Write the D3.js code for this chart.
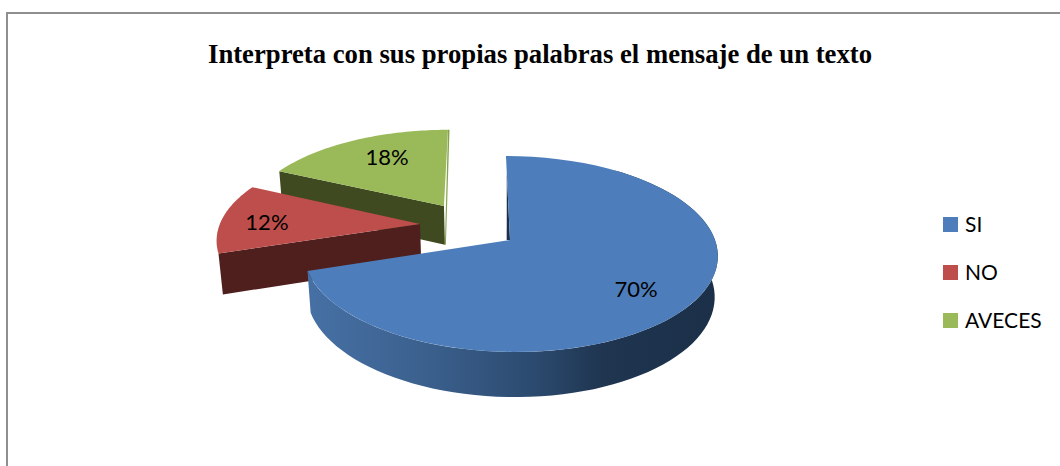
<!DOCTYPE html>
<html>
<head>
<meta charset="utf-8">
<script src="https://cdn.jsdelivr.net/npm/d3@7"></script>
<style>
html, body { margin: 0; padding: 0; background: white; }
</style>
</head>
<body>
<div id="chart"></div>
<script>
const title = "Interpreta con sus propias palabras el mensaje de un texto";
const categories = ["SI", "NO", "AVECES"];
const values = [70, 12, 18];
const colors = ["#4d7ebb", "#bd4e4b", "#9aba59"];
const wallColors = ["#1c3049", "#4f1f1e", "#3f4a20"];

const width = 1060;
const height = 466;

const svg = d3.select("#chart")
    .append("svg")
    .attr("width", width)
    .attr("height", height)
    .style("display", "block");

// frame is cut off on the right and at the bottom in the original
svg.append("path")
    .attr("d", `M7,${height}V13H${width}`)
    .attr("fill", "none")
    .attr("stroke", "#8f8f8f")
    .attr("stroke-width", 2);

svg.append("text")
    .attr("x", 540)
    .attr("y", 63)
    .attr("text-anchor", "middle")
    .style("font-family", "'Liberation Serif', serif")
    .style("font-weight", "bold")
    .style("font-size", "26.7px")
    .attr("fill", "black")
    .text(title);

// Perspective of the tilted disk. u goes right, v goes to the viewer, z goes down.
const project = function(u, v, z) {
    const w = 1 - v / 7 + 0.015 * z;
    return [
        510 + (205 * u + 4.6 * v) / w,
        240 + (96 * v + 41 * z) / w
    ];
};

const pie = d3.pie().sort(null).value(d => d);
const arcs = pie(values);

// how far each slice is pulled out, in disk units
const explode = [[0, 0], [-0.446, -0.171], [-0.331, -0.373]];
// label centre relative to the slice apex, in disk units
const labelOffset = [[0.562, 0.476], [-0.768, -0.022], [-0.331, -0.614]];

const line = d3.line();

const rimPoint = function(i, angle, z) {
    return project(
        explode[i][0] + Math.sin(angle),
        explode[i][1] - Math.cos(angle),
        z
    );
};

const apex = function(i, z) {
    return project(explode[i][0], explode[i][1], z);
};

const topFace = function(i) {
    const a = arcs[i];
    const pts = [apex(i, 0)];
    d3.range(0, 61).forEach(k => {
        pts.push(rimPoint(i, a.startAngle + (a.endAngle - a.startAngle) * k / 60, 0));
    });
    return line(pts) + "Z";
};

const defs = svg.append("defs");
const grad = defs.append("linearGradient")
    .attr("id", "blueWall")
    .attr("gradientUnits", "userSpaceOnUse")
    .attr("x1", 312).attr("y1", 0)
    .attr("x2", 716).attr("y2", 0);
[[0, "#4670a4"], [0.3, "#3a5f8c"], [0.55, "#2c4a6f"], [0.72, "#1f3550"], [1, "#1b2f48"]].forEach(s => {
    grad.append("stop").attr("offset", s[0]).attr("stop-color", s[1]);
});

const pieGroup = svg.append("g");

// back to front: AVECES, NO, SI
// AVECES
pieGroup.append("path")
    .attr("d", line([rimPoint(2, arcs[2].startAngle, 0), apex(2, 0), apex(2, 1), rimPoint(2, arcs[2].startAngle, 1)]) + "Z")
    .attr("fill", wallColors[2]);
pieGroup.append("path")
    .attr("d", line([rimPoint(2, arcs[2].endAngle, 0),
        [rimPoint(2, arcs[2].endAngle, 0)[0] + 1.5, rimPoint(2, arcs[2].endAngle, 0)[1]],
        [apex(2, 1)[0] + 1, apex(2, 1)[1]],
        apex(2, 1)]) + "Z")
    .attr("fill", "#86a24c");
pieGroup.append("path")
    .attr("d", topFace(2))
    .attr("fill", colors[2]);

// NO
pieGroup.append("path")
    .attr("d", line([rimPoint(1, arcs[1].startAngle, 0), apex(1, 0), apex(1, 1), rimPoint(1, arcs[1].startAngle, 1)]) + "Z")
    .attr("fill", wallColors[1]);
pieGroup.append("path")
    .attr("d", topFace(1))
    .attr("fill", colors[1]);

// SI, outer wall runs from the left end around the front
const wallAngles = d3.range(0, 81).map(k => arcs[0].endAngle + (Math.PI * 0.2 - arcs[0].endAngle) * k / 80);
const wallPts = wallAngles.map(a => rimPoint(0, a, 0)).concat(wallAngles.slice().reverse().map(a => rimPoint(0, a, 1)));
pieGroup.append("path")
    .attr("d", line(wallPts) + "Z")
    .attr("fill", "url(#blueWall)");
// thin dark sliver of the inner wall next to the top edge
pieGroup.append("path")
    .attr("d", line([project(0, -0.78, 0), apex(0, 0), project(-0.016, 0, 0)]) + "Z")
    .attr("fill", wallColors[0]);
pieGroup.append("path")
    .attr("d", topFace(0))
    .attr("fill", colors[0]);

pieGroup.selectAll(".lbl")
    .data(values)
    .join("text")
    .attr("class", "lbl")
    .attr("x", (d, i) => project(explode[i][0] + labelOffset[i][0], explode[i][1] + labelOffset[i][1], 0)[0])
    .attr("y", (d, i) => project(explode[i][0] + labelOffset[i][0], explode[i][1] + labelOffset[i][1], 0)[1])
    .attr("dy", "0.35em")
    .attr("text-anchor", "middle")
    .style("font-family", "Lato, sans-serif")
    .style("font-size", "22px")
    .attr("fill", "black")
    .text(d => d + "%");

// legend
const legendY = d3.scalePoint()
    .domain(categories)
    .range([224.5, 320.5]);

const legend = svg.append("g")
    .selectAll("g")
    .data(categories)
    .join("g")
    .attr("transform", d => `translate(943,${legendY(d)})`);

legend.append("rect")
    .attr("x", 0)
    .attr("y", -7.5)
    .attr("width", 15)
    .attr("height", 15)
    .attr("fill", (d, i) => colors[i]);

legend.append("text")
    .attr("x", 22)
    .attr("dy", "0.35em")
    .style("font-family", "Lato, sans-serif")
    .style("font-size", "21px")
    .attr("fill", "black")
    .text(d => d);
</script>
</body>
</html>
